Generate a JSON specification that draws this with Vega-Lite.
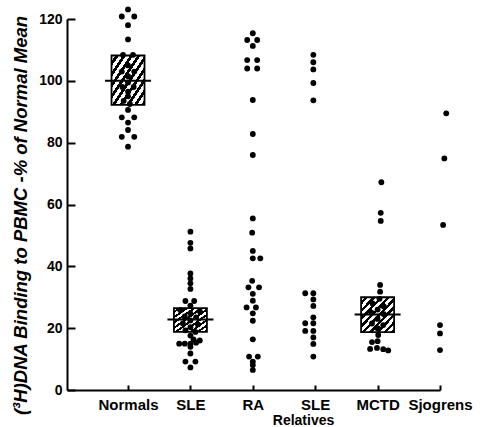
{
  "$schema": "https://vega.github.io/schema/vega-lite/v6.json",
  "autosize": "none",
  "width": 373,
  "height": 371,
  "padding": {"left": 67, "top": 19, "right": 48, "bottom": 37},
  "background": "white",
  "config": {
    "font": "Liberation Sans",
    "view": {"stroke": null},
    "axis": {"grid": false, "domain": true, "ticks": true, "domainColor": "#000000", "domainWidth": 2, "domainOpacity": 1, "tickColor": "#000000", "tickWidth": 2, "tickOpacity": 1, "labelColor": "black", "titleColor": "black", "labelFont": "Liberation Sans", "titleFont": "Liberation Sans", "labelFontWeight": "bold", "titleFontWeight": "bold"}
  },
  "datasets": {
    "dots": [
      {"group": "Normals", "value": 123.1, "slot": 0},
      {"group": "Normals", "value": 120.8, "slot": -1},
      {"group": "Normals", "value": 120.8, "slot": 1},
      {"group": "Normals", "value": 118, "slot": 0},
      {"group": "Normals", "value": 113.4, "slot": 0},
      {"group": "Normals", "value": 108.4, "slot": -0.8},
      {"group": "Normals", "value": 108.4, "slot": 0.8},
      {"group": "Normals", "value": 105, "slot": 0},
      {"group": "Normals", "value": 103, "slot": -1},
      {"group": "Normals", "value": 103, "slot": 1},
      {"group": "Normals", "value": 101.5, "slot": 0},
      {"group": "Normals", "value": 99.5, "slot": 0},
      {"group": "Normals", "value": 98, "slot": -0.9},
      {"group": "Normals", "value": 98, "slot": 0.9},
      {"group": "Normals", "value": 96.5, "slot": 0},
      {"group": "Normals", "value": 95, "slot": 0},
      {"group": "Normals", "value": 93.5, "slot": -0.7},
      {"group": "Normals", "value": 92.5, "slot": 0.3},
      {"group": "Normals", "value": 90.6, "slot": 0},
      {"group": "Normals", "value": 88.2, "slot": -1},
      {"group": "Normals", "value": 88.2, "slot": 1},
      {"group": "Normals", "value": 86.5, "slot": 0},
      {"group": "Normals", "value": 84.1, "slot": 0},
      {"group": "Normals", "value": 81.9, "slot": -1},
      {"group": "Normals", "value": 81.9, "slot": 1},
      {"group": "Normals", "value": 78.7, "slot": 0},
      {"group": "SLE", "value": 51.2, "slot": 0},
      {"group": "SLE", "value": 47.6, "slot": 0},
      {"group": "SLE", "value": 45.8, "slot": 0},
      {"group": "SLE", "value": 37.7, "slot": 0},
      {"group": "SLE", "value": 36.1, "slot": 0},
      {"group": "SLE", "value": 34.5, "slot": 0},
      {"group": "SLE", "value": 32.7, "slot": 0},
      {"group": "SLE", "value": 28.8, "slot": -0.8},
      {"group": "SLE", "value": 28.8, "slot": 0.6},
      {"group": "SLE", "value": 27.3, "slot": 0},
      {"group": "SLE", "value": 25.8, "slot": -1.6},
      {"group": "SLE", "value": 25.5, "slot": 1.5},
      {"group": "SLE", "value": 24.8, "slot": 0},
      {"group": "SLE", "value": 23.8, "slot": -0.9},
      {"group": "SLE", "value": 23.5, "slot": 0.9},
      {"group": "SLE", "value": 22.5, "slot": 0},
      {"group": "SLE", "value": 21.5, "slot": -1.2},
      {"group": "SLE", "value": 21.2, "slot": 1.2},
      {"group": "SLE", "value": 20.3, "slot": 0},
      {"group": "SLE", "value": 19.3, "slot": -0.8},
      {"group": "SLE", "value": 18.8, "slot": 0.8},
      {"group": "SLE", "value": 17.6, "slot": 0},
      {"group": "SLE", "value": 16.4, "slot": 0.5},
      {"group": "SLE", "value": 16, "slot": 1.5},
      {"group": "SLE", "value": 15, "slot": -1.8},
      {"group": "SLE", "value": 15, "slot": -0.9},
      {"group": "SLE", "value": 15, "slot": 0},
      {"group": "SLE", "value": 15.3, "slot": 0.9},
      {"group": "SLE", "value": 14, "slot": 0},
      {"group": "SLE", "value": 11.8, "slot": 0},
      {"group": "SLE", "value": 9.2, "slot": -0.8},
      {"group": "SLE", "value": 9.2, "slot": 0.8},
      {"group": "SLE", "value": 7.3, "slot": 0},
      {"group": "RA", "value": 115.4, "slot": 0},
      {"group": "RA", "value": 113.2, "slot": -0.9},
      {"group": "RA", "value": 113.2, "slot": 0.7},
      {"group": "RA", "value": 111.3, "slot": 0},
      {"group": "RA", "value": 106.7, "slot": -0.9},
      {"group": "RA", "value": 106.7, "slot": 0.7},
      {"group": "RA", "value": 104, "slot": -0.9},
      {"group": "RA", "value": 104, "slot": 0.7},
      {"group": "RA", "value": 93.8, "slot": 0},
      {"group": "RA", "value": 82.8, "slot": 0},
      {"group": "RA", "value": 76, "slot": 0},
      {"group": "RA", "value": 55.5, "slot": 0},
      {"group": "RA", "value": 50.9, "slot": -0.1},
      {"group": "RA", "value": 45, "slot": 0},
      {"group": "RA", "value": 42.6, "slot": 0},
      {"group": "RA", "value": 42.6, "slot": 1.2},
      {"group": "RA", "value": 35.3, "slot": -0.1},
      {"group": "RA", "value": 33.2, "slot": -0.7},
      {"group": "RA", "value": 33.2, "slot": 1},
      {"group": "RA", "value": 31.1, "slot": 0},
      {"group": "RA", "value": 28.9, "slot": 0},
      {"group": "RA", "value": 26.7, "slot": -1},
      {"group": "RA", "value": 26.7, "slot": 0.5},
      {"group": "RA", "value": 24.8, "slot": 0},
      {"group": "RA", "value": 22.4, "slot": 0},
      {"group": "RA", "value": 16.4, "slot": 0},
      {"group": "RA", "value": 10.8, "slot": -0.6},
      {"group": "RA", "value": 10.8, "slot": 0.8},
      {"group": "RA", "value": 9.2, "slot": 0},
      {"group": "RA", "value": 8.1, "slot": 0},
      {"group": "RA", "value": 6.5, "slot": 0},
      {"group": "SLE-R", "value": 108.4, "slot": -0.3},
      {"group": "SLE-R", "value": 106, "slot": -0.3},
      {"group": "SLE-R", "value": 103.7, "slot": -0.3},
      {"group": "SLE-R", "value": 99.3, "slot": -0.3},
      {"group": "SLE-R", "value": 93.7, "slot": -0.3},
      {"group": "SLE-R", "value": 31.3, "slot": -1.6},
      {"group": "SLE-R", "value": 31.3, "slot": -0.3},
      {"group": "SLE-R", "value": 29.3, "slot": -0.3},
      {"group": "SLE-R", "value": 27.2, "slot": -0.3},
      {"group": "SLE-R", "value": 23.5, "slot": -0.3},
      {"group": "SLE-R", "value": 21.6, "slot": -1.6},
      {"group": "SLE-R", "value": 21.6, "slot": -0.3},
      {"group": "SLE-R", "value": 19.1, "slot": -1.6},
      {"group": "SLE-R", "value": 19.1, "slot": -0.3},
      {"group": "SLE-R", "value": 17, "slot": -0.3},
      {"group": "SLE-R", "value": 14.9, "slot": -0.3},
      {"group": "SLE-R", "value": 10.8, "slot": -0.3},
      {"group": "MCTD", "value": 67.2, "slot": 0.6},
      {"group": "MCTD", "value": 57.3, "slot": 0.5},
      {"group": "MCTD", "value": 54.7, "slot": 0.5},
      {"group": "MCTD", "value": 34, "slot": 0.4},
      {"group": "MCTD", "value": 31.8, "slot": 0.4},
      {"group": "MCTD", "value": 29.5, "slot": 0.3},
      {"group": "MCTD", "value": 28, "slot": -0.8},
      {"group": "MCTD", "value": 27, "slot": 1},
      {"group": "MCTD", "value": 26, "slot": 0},
      {"group": "MCTD", "value": 25, "slot": -1},
      {"group": "MCTD", "value": 24.5, "slot": 1},
      {"group": "MCTD", "value": 23, "slot": 0},
      {"group": "MCTD", "value": 21.5, "slot": -0.9},
      {"group": "MCTD", "value": 21, "slot": 0.9},
      {"group": "MCTD", "value": 20, "slot": 0},
      {"group": "MCTD", "value": 17.8, "slot": 0.1},
      {"group": "MCTD", "value": 15.8, "slot": 0},
      {"group": "MCTD", "value": 15.5, "slot": -0.9},
      {"group": "MCTD", "value": 13.3, "slot": -1.2},
      {"group": "MCTD", "value": 13.6, "slot": -0.1},
      {"group": "MCTD", "value": 13.2, "slot": 0.9},
      {"group": "MCTD", "value": 12.8, "slot": 1.7},
      {"group": "Sjogrens", "value": 89.5, "slot": 1},
      {"group": "Sjogrens", "value": 74.9, "slot": 0.7},
      {"group": "Sjogrens", "value": 53.4, "slot": 0.5},
      {"group": "Sjogrens", "value": 21, "slot": 0},
      {"group": "Sjogrens", "value": 18.3, "slot": 0},
      {"group": "Sjogrens", "value": 12.9, "slot": 0}
    ],
    "boxes": [
      {"group": "Normals", "lo": 92.2, "hi": 108.2, "mean": 100},
      {"group": "SLE", "lo": 18.8, "hi": 26.5, "mean": 22.8},
      {"group": "MCTD", "lo": 18.7, "hi": 30, "mean": 24.4}
    ]
  },
  "encoding": {
    "x": {
      "field": "group",
      "type": "nominal",
      "sort": ["Normals", "SLE", "RA", "SLE-R", "MCTD", "Sjogrens"],
      "scale": {"type": "point", "domain": ["Normals", "SLE", "RA", "SLE-R", "MCTD", "Sjogrens"], "padding": 0.489, "align": 1},
      "axis": {
        "title": "Relatives",
        "titleFontSize": 14,
        "titleX": 236,
        "titleY": 37,
        "titleBaseline": "bottom",
        "titleAnchor": null,
        "labelAngle": 0,
        "labelFontSize": 15,
        "labelPadding": 12,
        "tickSize": -5,
        "labelExpr": "datum.value == 'SLE-R' ? 'SLE' : datum.value"
      }
    }
  },
  "layer": [
    {
      "data": {"name": "boxes"},
      "mark": {
        "type": "bar",
        "width": 33,
        "stroke": "black",
        "strokeWidth": 1.8,
        "fill": {
          "gradient": "linear", "x1": 0, "y1": 0, "x2": 1, "y2": 1,
          "stops": [
            {"offset": 0, "color": "white"}, {"offset": 0.06, "color": "white"}, {"offset": 0.06, "color": "black"}, {"offset": 0.111, "color": "black"},
            {"offset": 0.111, "color": "white"}, {"offset": 0.171, "color": "white"}, {"offset": 0.171, "color": "black"}, {"offset": 0.222, "color": "black"},
            {"offset": 0.222, "color": "white"}, {"offset": 0.282, "color": "white"}, {"offset": 0.282, "color": "black"}, {"offset": 0.333, "color": "black"},
            {"offset": 0.333, "color": "white"}, {"offset": 0.393, "color": "white"}, {"offset": 0.393, "color": "black"}, {"offset": 0.444, "color": "black"},
            {"offset": 0.444, "color": "white"}, {"offset": 0.504, "color": "white"}, {"offset": 0.504, "color": "black"}, {"offset": 0.555, "color": "black"},
            {"offset": 0.555, "color": "white"}, {"offset": 0.615, "color": "white"}, {"offset": 0.615, "color": "black"}, {"offset": 0.666, "color": "black"},
            {"offset": 0.666, "color": "white"}, {"offset": 0.726, "color": "white"}, {"offset": 0.726, "color": "black"}, {"offset": 0.777, "color": "black"},
            {"offset": 0.777, "color": "white"}, {"offset": 0.837, "color": "white"}, {"offset": 0.837, "color": "black"}, {"offset": 0.888, "color": "black"},
            {"offset": 0.888, "color": "white"}, {"offset": 0.948, "color": "white"}, {"offset": 0.948, "color": "black"}, {"offset": 1, "color": "black"}
          ]
        }
      },
      "encoding": {
        "y": {"field": "lo", "type": "quantitative"},
        "y2": {"field": "hi"}
      }
    },
    {
      "data": {"name": "boxes"},
      "mark": {"type": "tick", "size": 46, "thickness": 2, "color": "black", "opacity": 1},
      "encoding": {
        "y": {"field": "mean", "type": "quantitative"}
      }
    },
    {
      "data": {"name": "dots"},
      "mark": {"type": "circle", "size": 34, "color": "black", "opacity": 1},
      "encoding": {
        "xOffset": {"field": "slot", "type": "quantitative", "scale": {"domain": [-5, 5], "range": [-31.2, 31.2]}},
        "y": {
          "field": "value",
          "type": "quantitative",
          "scale": {"domain": [0, 120], "nice": false, "zero": true},
          "axis": {
            "title": "(³H)DNA Binding to PBMC -% of Normal Mean",
            "titleFontSize": 18.5,
            "titleFontStyle": "italic",
            "titleAnchor": null,
            "titleX": -37,
            "titleY": 196,
            "titleBaseline": "bottom",
            "titleAlign": "center",
            "values": [0, 20, 40, 60, 80, 100, 120],
            "labelFontSize": 14,
            "labelPadding": 13,
            "tickSize": -8
          }
        }
      }
    }
  ]
}
